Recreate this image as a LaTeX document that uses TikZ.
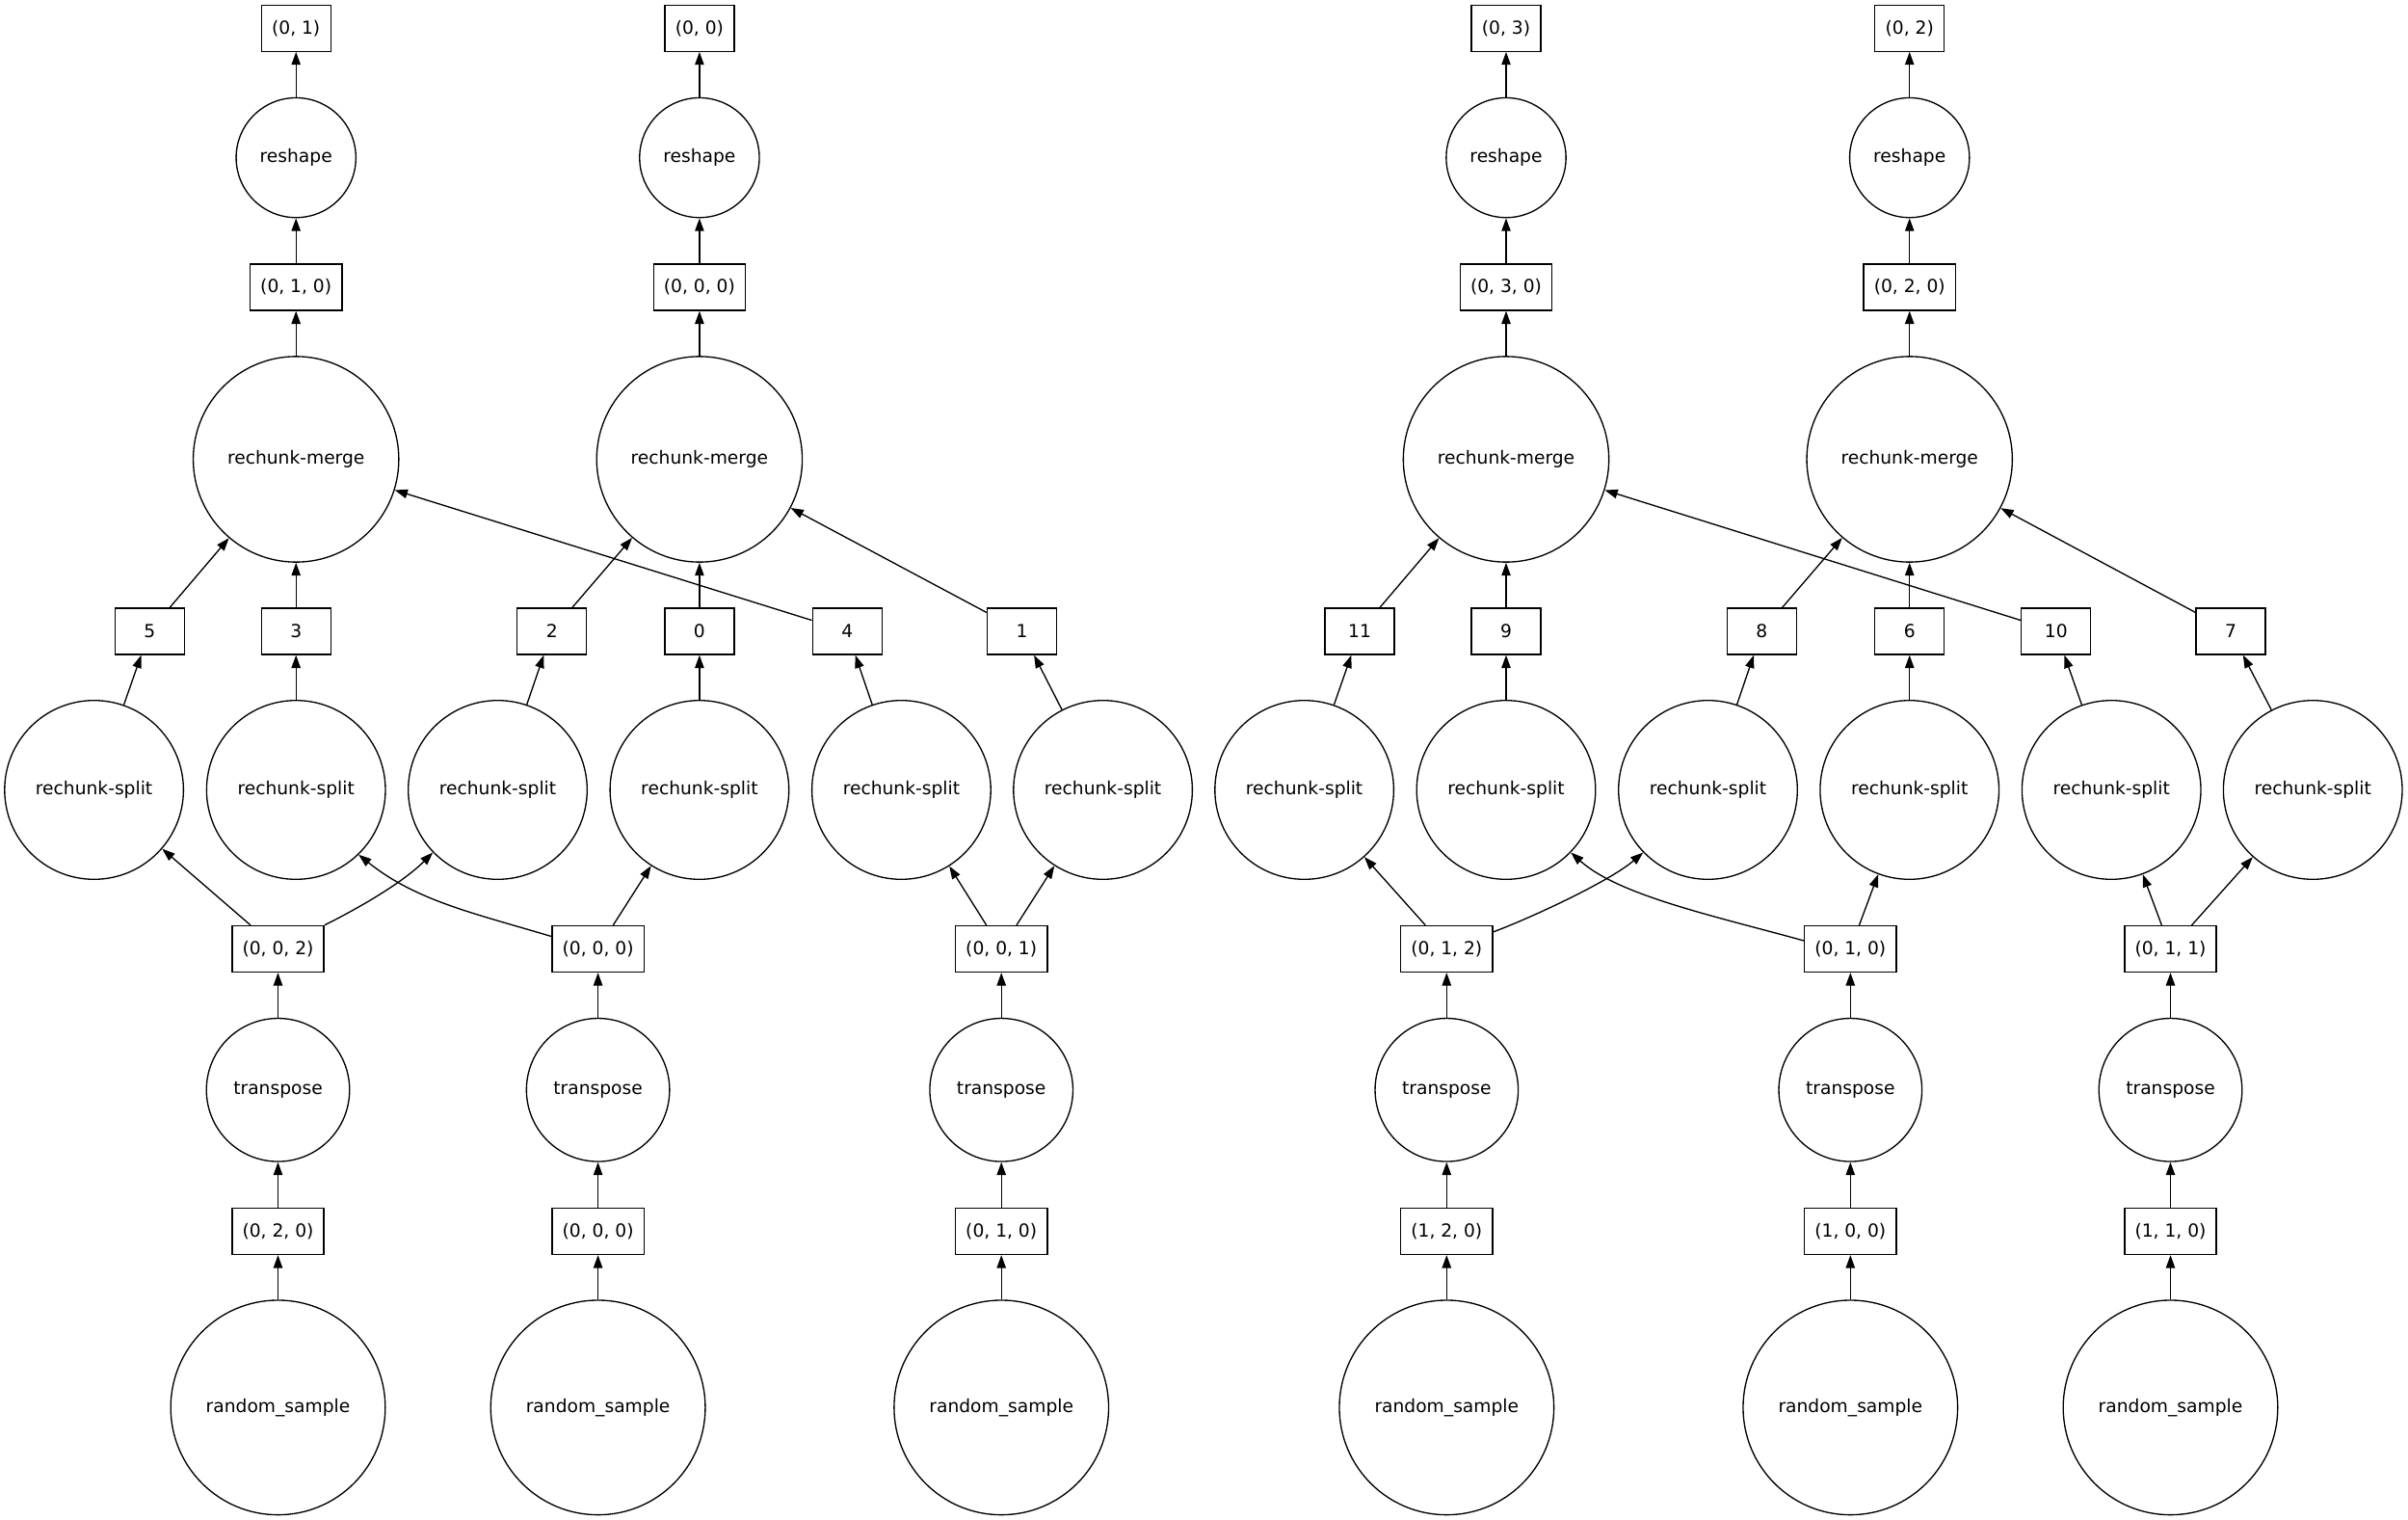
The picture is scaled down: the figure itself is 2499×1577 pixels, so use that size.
\documentclass[tikz,border=0pt]{standalone}
\usepackage{fontspec}
\setmainfont{DejaVu Sans}
\usetikzlibrary{arrows.meta}
\begin{document}
\begin{tikzpicture}[x=0.75pt,y=-0.75pt,
  lbl/.style={font=\fontsize{14}{16}\selectfont, draw, line width=1pt},
  box/.style={lbl, rectangle, minimum width=54pt, minimum height=36pt, inner xsep=8pt, inner ysep=0pt},
  rsh/.style={lbl, circle, minimum size=93.2pt, inner sep=0pt},
  mrg/.style={lbl, circle, minimum size=160pt, inner sep=0pt},
  spl/.style={lbl, circle, minimum size=139.2pt, inner sep=0pt},
  trp/.style={lbl, circle, minimum size=111.4pt, inner sep=0pt},
  rnd/.style={lbl, circle, minimum size=167pt, inner sep=0pt},
  conn/.style={-{Triangle[length=10pt,width=7pt]}, line width=1pt}
]
\path[fill=white] (0,0) rectangle (2499,1577);
\useasboundingbox (0,0) rectangle (2499,1577);

% ---------- left graph ----------
\node[box] (oA) at (307.2,29.2) {(0, 1)};
\node[box] (oB) at (725.9,29.2) {(0, 0)};
\node[rsh] (rA) at (307.2,163.6) {reshape};
\node[rsh] (rB) at (725.9,163.6) {reshape};
\node[box] (cA) at (307.2,298) {(0, 1, 0)};
\node[box] (cB) at (725.9,298) {(0, 0, 0)};
\node[mrg] (mA) at (307.2,476.5) {rechunk-merge};
\node[mrg] (mB) at (725.9,476.5) {rechunk-merge};

\node[box] (d5) at (155.2,655) {5};
\node[box] (d3) at (307.2,655) {3};
\node[box] (d2) at (572.7,655) {2};
\node[box] (d0) at (725.9,655) {0};
\node[box] (d4) at (879.2,655) {4};
\node[box] (d1) at (1060.5,655) {1};

\node[spl] (s5) at (97.6,819.5) {rechunk-split};
\node[spl] (s3) at (307.2,819.5) {rechunk-split};
\node[spl] (s2) at (516.5,819.5) {rechunk-split};
\node[spl] (s0) at (725.9,819.5) {rechunk-split};
\node[spl] (s4) at (935.4,819.5) {rechunk-split};
\node[spl] (s1) at (1144.6,819.5) {rechunk-split};

\node[box] (pA) at (288.5,984.5) {(0, 0, 2)};
\node[box] (pB) at (620.6,984.5) {(0, 0, 0)};
\node[box] (pC) at (1039.2,984.5) {(0, 0, 1)};
\node[trp] (tA) at (288.5,1130.8) {transpose};
\node[trp] (tB) at (620.6,1130.8) {transpose};
\node[trp] (tC) at (1039.2,1130.8) {transpose};
\node[box] (qA) at (288.5,1277.5) {(0, 2, 0)};
\node[box] (qB) at (620.6,1277.5) {(0, 0, 0)};
\node[box] (qC) at (1039.2,1277.5) {(0, 1, 0)};
\node[rnd] (xA) at (288.5,1460.3) {random\_sample};
\node[rnd] (xB) at (620.6,1460.3) {random\_sample};
\node[rnd] (xC) at (1039.2,1460.3) {random\_sample};

% ---------- right graph ----------
\node[box] (oC) at (1563,29.2) {(0, 3)};
\node[box] (oD) at (1981.7,29.2) {(0, 2)};
\node[rsh] (rC) at (1563,163.6) {reshape};
\node[rsh] (rD) at (1981.7,163.6) {reshape};
\node[box] (cC) at (1563,298) {(0, 3, 0)};
\node[box] (cD) at (1981.7,298) {(0, 2, 0)};
\node[mrg] (mC) at (1563,476.5) {rechunk-merge};
\node[mrg] (mD) at (1981.7,476.5) {rechunk-merge};

\node[box] (d11) at (1411,655) {11};
\node[box] (d9) at (1563,655) {9};
\node[box] (d8) at (1828.4,655) {8};
\node[box] (d6) at (1981.7,655) {6};
\node[box] (d10) at (2133.8,655) {10};
\node[box] (d7) at (2315,655) {7};

\node[spl] (s11) at (1353.6,819.5) {rechunk-split};
\node[spl] (s9) at (1563,819.5) {rechunk-split};
\node[spl] (s8) at (1772.5,819.5) {rechunk-split};
\node[spl] (s6) at (1981.7,819.5) {rechunk-split};
\node[spl] (s10) at (2191.2,819.5) {rechunk-split};
\node[spl] (s7) at (2400.2,819.5) {rechunk-split};

\node[box] (pD) at (1501.3,984.5) {(0, 1, 2)};
\node[box] (pE) at (1920.3,984.5) {(0, 1, 0)};
\node[box] (pF) at (2252.5,984.5) {(0, 1, 1)};
\node[trp] (tD) at (1501.3,1130.8) {transpose};
\node[trp] (tE) at (1920.3,1130.8) {transpose};
\node[trp] (tF) at (2252.5,1130.8) {transpose};
\node[box] (qD) at (1501.3,1277.5) {(1, 2, 0)};
\node[box] (qE) at (1920.3,1277.5) {(1, 0, 0)};
\node[box] (qF) at (2252.5,1277.5) {(1, 1, 0)};
\node[rnd] (xD) at (1501.3,1460.3) {random\_sample};
\node[rnd] (xE) at (1920.3,1460.3) {random\_sample};
\node[rnd] (xF) at (2252.5,1460.3) {random\_sample};

% ---------- edges ----------
\foreach \k in {A,B,C,D,E,F}{
  \draw[conn] (x\k) -- (q\k);
  \draw[conn] (q\k) -- (t\k);
  \draw[conn] (t\k) -- (p\k);
}
\foreach \k in {A,B,C,D}{
  \draw[conn] (m\k) -- (c\k);
  \draw[conn] (c\k) -- (r\k);
  \draw[conn] (r\k) -- (o\k);
}

% bottom boxes to splits
\draw[conn] (pA) -- (s5);
\draw[conn] (pA.north east) .. controls +(40,-20) and +(-30,30) .. (s2.224);
\draw[conn] (pB.165) .. controls +(-80,-24) and +(60,48) .. (s3.314);
\draw[conn] (pB) -- (s0);
\draw[conn] (pC) -- (s4);
\draw[conn] (pC) -- (s1);

\draw[conn] (pD) -- (s11);
\draw[conn] (pD.20) .. controls +(40,-15) and +(-35,30) .. (s8.224);
\draw[conn] (pE.170) .. controls +(-90,-25) and +(50,45) .. (s9.316);
\draw[conn] (pE) -- (s6);
\draw[conn] (pF) -- (s10);
\draw[conn] (pF) -- (s7);

% splits to digit boxes
\foreach \n in {5,3,2,0,4,1,11,9,8,6,10,7}{
  \draw[conn] (s\n) -- (d\n);
}

% digit boxes to merges
\draw[conn] (d5) -- (mA);
\draw[conn] (d3) -- (mA);
\draw[conn] (d4) -- (mA);
\draw[conn] (d2) -- (mB);
\draw[conn] (d0) -- (mB);
\draw[conn] (d1) -- (mB);
\draw[conn] (d11) -- (mC);
\draw[conn] (d9) -- (mC);
\draw[conn] (d10) -- (mC);
\draw[conn] (d8) -- (mD);
\draw[conn] (d6) -- (mD);
\draw[conn] (d7) -- (mD);
\end{tikzpicture}
\end{document}
